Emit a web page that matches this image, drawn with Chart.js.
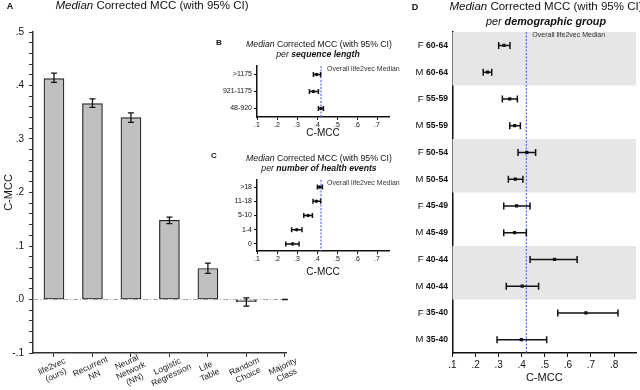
<!DOCTYPE html>
<html>
<head>
<meta charset="utf-8">
<script src="https://cdn.jsdelivr.net/npm/chart.js@4"></script>
<style>
body { margin: 0; background: #fff; font-family: "Liberation Sans", Arial, sans-serif; }
#wrap { position: relative; width: 640px; height: 390px; overflow: hidden; }
canvas { position: absolute; }
.t { position: absolute; white-space: nowrap; color: #111; line-height: 1; transform: translate(-50%, -50%); }
</style>
</head>
<body>
<div id="wrap">
  <canvas id="cA" width="310" height="390" style="left:0;top:0"></canvas>
  <canvas id="cB" width="210" height="81" style="left:200px;top:58px"></canvas>
  <canvas id="cC" width="210" height="106" style="left:200px;top:172px"></canvas>
  <canvas id="cD" width="240" height="365" style="left:400px;top:25px"></canvas>

  <div class="t" style="left:10px;top:6px;font-size:9px;font-weight:bold">A</div>
  <div class="t" style="left:152px;top:6px;font-size:11.5px"><i>Median</i> Corrected MCC (with 95% CI)</div>

  <div class="t" style="left:219px;top:43px;font-size:8px;font-weight:bold">B</div>
  <div class="t" style="left:319px;top:44px;font-size:8.7px"><i>Median</i> Corrected MCC (with 95% CI)</div>
  <div class="t" style="left:318px;top:54px;font-size:8.7px"><i>per</i> <b><i>sequence length</i></b></div>

  <div class="t" style="left:214px;top:156px;font-size:8px;font-weight:bold">C</div>
  <div class="t" style="left:319px;top:158px;font-size:8.7px"><i>Median</i> Corrected MCC (with 95% CI)</div>
  <div class="t" style="left:319px;top:168px;font-size:8.7px"><i>per</i> <b><i>number of health events</i></b></div>

  <div class="t" style="left:415px;top:7px;font-size:9px;font-weight:bold">D</div>
  <div class="t" style="left:546px;top:7px;font-size:11.5px"><i>Median</i> Corrected MCC (with 95% CI)</div>
  <div class="t" style="left:546px;top:21px;font-size:10.8px"><i>per</i> <b><i>demographic group</i></b></div>
</div>
<script>
// panel A: models
const modelLabels = [['life2vec', '(ours)'], ['Recurrent', 'NN'], ['Neural', 'Network', '(NN)'], ['Logistic', 'Regression'], ['Life', 'Table'], ['Random', 'Choice'], ['Majority', 'Class']];
const modelMedian = [0.413, 0.366, 0.340, 0.148, 0.058, -0.004, 0];
const modelLow = [0.406, 0.359, 0.331, 0.142, 0.049, -0.0125, 0];
const modelHigh = [0.423, 0.375, 0.349, 0.154, 0.068, 0.003, 0];

// panel B: sequence length
const seqLabels = ['>1175', '921-1175', '48-920'];
const seqMedian = [0.398, 0.382, 0.420];
const seqLow = [0.382, 0.362, 0.407];
const seqHigh = [0.418, 0.407, 0.432];

// panel C: number of health events
const eventLabels = ['>18', '11-18', '5-10', '1-4', '0'];
const eventMedian = [0.413, 0.397, 0.355, 0.298, 0.278];
const eventLow = [0.402, 0.380, 0.334, 0.273, 0.244];
const eventHigh = [0.427, 0.418, 0.377, 0.325, 0.310];

// panel D: demographic groups
const demoSex = ['F', 'M', 'F', 'M', 'F', 'M', 'F', 'M', 'F', 'M', 'F', 'M'];
const demoAge = ['60-64', '60-64', '55-59', '55-59', '50-54', '50-54', '45-49', '45-49', '40-44', '40-44', '35-40', '35-40'];
const demoMedian = [0.323, 0.252, 0.348, 0.369, 0.422, 0.372, 0.378, 0.369, 0.542, 0.402, 0.678, 0.398];
const demoLow = [0.300, 0.233, 0.316, 0.348, 0.384, 0.342, 0.322, 0.322, 0.436, 0.333, 0.556, 0.293];
const demoHigh = [0.349, 0.270, 0.381, 0.394, 0.460, 0.405, 0.436, 0.420, 0.640, 0.473, 0.817, 0.508];
const shadedRows = [[0, 1], [4, 5], [8, 9]];

const overallMedian = 0.42;

const FONT = '"Liberation Sans", Arial, sans-serif';
Chart.defaults.font.family = FONT;
Chart.defaults.color = '#111';

const fmtTick = v => (Math.round(v * 10) / 10).toFixed(1).replace('0.', '.');

const zeroLine = {
  id: 'zeroLine',
  beforeDatasetsDraw(chart) {
    const {ctx, chartArea, scales: {y}} = chart;
    const py = y.getPixelForValue(0);
    ctx.save();
    ctx.strokeStyle = '#aaa';
    ctx.lineWidth = 1;
    ctx.setLineDash([5, 2, 1, 2]);
    ctx.beginPath();
    ctx.moveTo(chartArea.left, py);
    ctx.lineTo(chartArea.right, py);
    ctx.stroke();
    ctx.restore();
  }
};

const vErrorBars = {
  id: 'vErr',
  afterDatasetsDraw(chart) {
    const {ctx, scales: {x, y}} = chart;
    ctx.save();
    ctx.strokeStyle = '#111';
    ctx.lineWidth = 1.3;
    modelLow.forEach((lo, i) => {
      const px = x.getPixelForValue(i);
      const y0 = y.getPixelForValue(lo), y1 = y.getPixelForValue(modelHigh[i]);
      ctx.beginPath();
      ctx.moveTo(px, y0); ctx.lineTo(px, y1);
      ctx.moveTo(px - 3, y0); ctx.lineTo(px + 3, y0);
      ctx.moveTo(px - 3, y1); ctx.lineTo(px + 3, y1);
      ctx.stroke();
    });
    ctx.restore();
  }
};

const modelLabelPlugin = {
  id: 'modelLabels',
  afterDraw(chart) {
    const {ctx, scales: {x}} = chart;
    ctx.save();
    ctx.font = '8.5px ' + FONT;
    ctx.fillStyle = '#222';
    ctx.textAlign = 'center';
    ctx.textBaseline = 'middle';
    modelLabels.forEach((lines, i) => {
      ctx.save();
      ctx.translate(x.getPixelForValue(i), x.top + 18);
      ctx.rotate(-25 * Math.PI / 180);
      lines.forEach((t, j) => ctx.fillText(t, 0, (j - (lines.length - 1) / 2) * 9.5));
      ctx.restore();
    });
    ctx.restore();
  }
};

const hErrorBars = (low, high, cap) => ({
  id: 'hErr',
  beforeDatasetsDraw(chart) {
    const {ctx, scales: {x, y}} = chart;
    ctx.save();
    ctx.strokeStyle = '#111';
    ctx.lineWidth = 1.5;
    low.forEach((lo, i) => {
      const py = y.getPixelForValue(i);
      const x0 = x.getPixelForValue(lo), x1 = x.getPixelForValue(high[i]);
      ctx.beginPath();
      ctx.moveTo(x0, py); ctx.lineTo(x1, py);
      ctx.moveTo(x0, py - cap); ctx.lineTo(x0, py + cap);
      ctx.moveTo(x1, py - cap); ctx.lineTo(x1, py + cap);
      ctx.stroke();
    });
    ctx.restore();
  }
});

const medianLine = size => ({
  id: 'medLine',
  beforeDatasetsDraw(chart) {
    const {ctx, chartArea, scales: {x}} = chart;
    const px = x.getPixelForValue(overallMedian);
    ctx.save();
    ctx.strokeStyle = '#5566ff';
    ctx.lineWidth = 1.2;
    ctx.setLineDash([2, 1.5]);
    ctx.beginPath();
    ctx.moveTo(px, chartArea.top);
    ctx.lineTo(px, chartArea.bottom);
    ctx.stroke();
    ctx.fillStyle = '#333';
    ctx.font = size + 'px ' + FONT;
    ctx.textBaseline = 'middle';
    ctx.fillText('Overall life2vec Median', px + 6, chartArea.top + 3);
    ctx.restore();
  }
});

const bands = {
  id: 'bands',
  beforeDatasetsDraw(chart) {
    const {ctx, chartArea, scales: {y}} = chart;
    ctx.save();
    ctx.fillStyle = '#e6e6e6';
    shadedRows.forEach(([a, b]) => {
      const y0 = y.getPixelForValue(a - 0.5), y1 = y.getPixelForValue(b + 0.5);
      ctx.fillRect(chartArea.left, y0, chartArea.right - chartArea.left, y1 - y0);
    });
    ctx.restore();
  }
};

const demoLabels = {
  id: 'demoLabels',
  afterDraw(chart) {
    const {ctx, chartArea, scales: {y}} = chart;
    ctx.save();
    ctx.fillStyle = '#111';
    ctx.textAlign = 'right';
    ctx.textBaseline = 'middle';
    demoAge.forEach((age, i) => {
      const py = y.getPixelForValue(i);
      ctx.font = '9.5px ' + FONT;
      ctx.fillText(demoSex[i], chartArea.left - 29, py);
      ctx.font = 'bold 8.6px ' + FONT;
      ctx.fillText(age, chartArea.left - 4.5, py);
    });
    ctx.restore();
  }
};

// panel A
new Chart(document.getElementById('cA'), {
  type: 'bar',
  data: {
    datasets: [{
      data: modelMedian.map((v, i) => ({x: i, y: v})),
      backgroundColor: '#c0c0c0',
      borderColor: '#222',
      borderWidth: 1.2,
      borderSkipped: false,
      barThickness: 20
    }]
  },
  options: {
    responsive: false,
    animation: false,
    layout: {padding: {top: 32, right: 24, left: 0, bottom: 0}},
    plugins: {legend: {display: false}, tooltip: {enabled: false}},
    scales: {
      x: {
        type: 'linear', min: -0.545, max: 6.03, offset: false,
        ticks: {stepSize: 1, includeBounds: false, callback: () => '', autoSkip: false},
        grid: {drawOnChartArea: false, tickLength: 4, color: '#333', offset: false},
        border: {color: '#333', width: 1.5},
        afterFit(s) { s.height = 37; }
      },
      y: {
        min: -0.1, max: 0.5,
        ticks: {
          stepSize: 0.02, autoSkip: false, padding: 5, font: {size: 10},
          callback: v => Math.abs(v * 10 - Math.round(v * 10)) < 1e-6 ? fmtTick(v) : ''
        },
        grid: {drawOnChartArea: false, tickLength: 4, color: '#333'},
        border: {color: '#333', width: 1.5},
        title: {display: true, text: 'C-MCC', font: {size: 11}, padding: {top: 2, bottom: 0}},
        afterFit(s) { s.width = 33; }
      }
    }
  },
  plugins: [zeroLine, vErrorBars, modelLabelPlugin]
});

function rowChart(id, labels, median, low, high, o) {
  return new Chart(document.getElementById(id), {
    type: 'scatter',
    data: {
      labels: labels,
      datasets: [{
        data: median.map((v, i) => ({x: v, y: i})),
        pointRadius: o.pr,
        pointStyle: o.ps,
        backgroundColor: '#111',
        borderWidth: 0
      }]
    },
    options: {
      responsive: false,
      animation: false,
      layout: {padding: o.pad},
      plugins: {legend: {display: false}, tooltip: {enabled: false}},
      scales: {
        x: {
          type: 'linear', min: 0.1, max: o.xmax,
          ticks: {stepSize: 0.1, includeBounds: false, callback: fmtTick, font: {size: o.tick}, padding: o.tp, maxRotation: 0, autoSkip: false},
          grid: {drawOnChartArea: false, tickLength: o.tl, color: '#111'},
          border: {color: '#111', width: 1.5},
          title: {display: true, text: 'C-MCC', font: {size: o.title}, padding: {top: 0, bottom: o.titlePad}},
          afterFit(s) { s.height = o.xh; }
        },
        y: {
          type: 'category', labels: labels, offset: true,
          ticks: {display: o.yTicks, font: {size: o.tick}, padding: 2, autoSkip: false},
          grid: {drawOnChartArea: false, drawTicks: o.yTicks, tickLength: 3, color: '#111', offset: false},
          border: {color: '#111', width: 1.5},
          afterFit(s) { s.width = o.yw; }
        }
      }
    },
    plugins: [...o.extra, medianLine(o.note), hErrorBars(low, high, o.cap)]
  });
}

rowChart('cB', seqLabels, seqMedian, seqLow, seqHigh, {
  pr: 1.8, ps: 'circle', pad: {top: 8, right: 21, left: 0, bottom: 0}, xmax: 0.76,
  tick: 7, tp: 1, tl: 3, title: 10, titlePad: 0, xh: 22, yTicks: true, yw: 57,
  extra: [], note: 7, cap: 2.5
});

rowChart('cC', eventLabels, eventMedian, eventLow, eventHigh, {
  pr: 1.8, ps: 'circle', pad: {top: 8, right: 21, left: 0, bottom: 0}, xmax: 0.76,
  tick: 7, tp: 1, tl: 3, title: 10, titlePad: 0, xh: 27, yTicks: true, yw: 57,
  extra: [], note: 7, cap: 2.5
});

rowChart('cD', demoAge, demoMedian, demoLow, demoHigh, {
  pr: 2.3, ps: 'rect', pad: {top: 7, right: 3, left: 0, bottom: 0}, xmax: 0.895,
  tick: 10, tp: 2, tl: 4, title: 11, titlePad: 5, xh: 37, yTicks: false, yw: 52.5,
  extra: [bands, demoLabels], note: 7, cap: 3.5
});
</script>
</body>
</html>
